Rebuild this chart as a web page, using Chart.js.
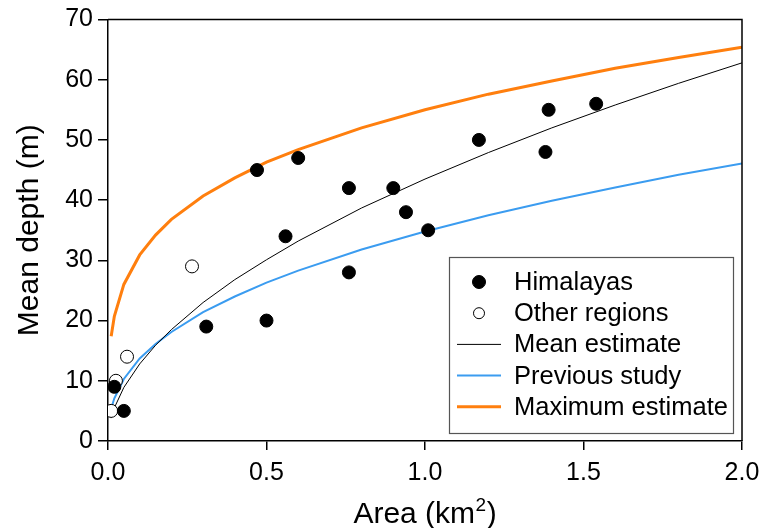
<!DOCTYPE html>
<html>
<head>
<meta charset="utf-8">
<script src="https://cdn.jsdelivr.net/npm/chart.js@4/dist/chart.umd.min.js"></script>
<style>
html,body{margin:0;padding:0;background:#fff;}
#wrap{width:764px;height:528px;}
</style>
</head>
<body>
<div id="wrap"><canvas id="c" width="764" height="528"></canvas></div>
<script>
// Himalayas (filled)
const himX = [0.02, 0.05, 0.31, 0.47, 0.50, 0.56, 0.60, 0.76, 0.76, 0.90, 0.94, 1.01, 1.17, 1.38, 1.39, 1.54];
const himY = [9, 5, 19, 45, 20, 34, 47, 42, 28, 42, 38, 35, 50, 48, 55, 56];
// Other regions (open)
const othX = [0.01, 0.025, 0.06, 0.265];
const othY = [5, 10, 14, 29];
// Curves
const curveX = [0.01, 0.02, 0.05, 0.1, 0.15, 0.2, 0.3, 0.4, 0.5, 0.6, 0.8, 1.0, 1.2, 1.4, 1.6, 1.8, 2.0];
const meanY = [3.8, 5.5, 8.9, 12.8, 15.9, 18.5, 23.0, 26.8, 30.1, 33.2, 38.7, 43.5, 47.9, 52.0, 55.8, 59.4, 62.8];
const prevY = [5.4, 7.1, 10.3, 13.7, 16.1, 18.1, 21.4, 24.0, 26.3, 28.3, 31.8, 34.8, 37.5, 39.9, 42.1, 44.2, 46.1];
const maxY = [17.4, 20.7, 26.0, 30.9, 34.2, 36.8, 40.7, 43.7, 46.3, 48.4, 52.0, 55.0, 57.6, 59.8, 61.9, 63.7, 65.4];
const xTicks = [0, 0.5, 1.0, 1.5, 2.0];
const yTicks = [0, 10, 20, 30, 40, 50, 60, 70];
const xTitle = ['Area (km', '2', ')'];

const pts = (xs, ys) => xs.map((x, i) => ({x: x, y: ys[i]}));
const FONT = "'Liberation Sans', Arial, sans-serif";

const frame = {
  id: 'frame',
  afterDatasetsDraw(chart) {
    const {ctx, chartArea: a} = chart;
    ctx.save();
    ctx.strokeStyle = '#000';
    ctx.lineWidth = 1.5;
    ctx.beginPath();
    ctx.moveTo(a.left, a.top);
    ctx.lineTo(a.right, a.top);
    ctx.lineTo(a.right, a.bottom);
    ctx.stroke();
    ctx.restore();
  },
  afterDraw(chart) {
    const ctx = chart.ctx;
    const ds = chart.data.datasets;
    const a = chart.chartArea;
    ctx.save();
    // x axis title with superscript
    const big = '30px ' + FONT, small = '19px ' + FONT;
    ctx.font = big; const w1 = ctx.measureText(xTitle[0]).width;
    ctx.font = small; const w2 = ctx.measureText(xTitle[1]).width;
    ctx.font = big; const w3 = ctx.measureText(xTitle[2]).width;
    const total = w1 + w2 + w3 + 1;
    const x0 = (a.left + a.right) / 2 - total / 2;
    const base = 523;
    ctx.fillStyle = '#000';
    ctx.textBaseline = 'alphabetic';
    ctx.textAlign = 'left';
    ctx.font = big; ctx.fillText(xTitle[0], x0, base);
    ctx.font = small; ctx.fillText(xTitle[1], x0 + w1 + 0.5, base - 12);
    ctx.font = big; ctx.fillText(xTitle[2], x0 + w1 + w2 + 1, base);
    // legend box
    ctx.fillStyle = '#fff';
    ctx.fillRect(449, 257, 284, 176);
    ctx.strokeStyle = '#555';
    ctx.lineWidth = 1.2;
    ctx.strokeRect(449.5, 257.5, 284, 176);
    ctx.font = '25.5px ' + FONT;
    ctx.textBaseline = 'middle';
    ds.forEach((d, r) => {
      const y = 282 + r * 31.2;
      if (d.type === 'scatter') {
        ctx.beginPath();
        ctx.arc(479, y, r === 0 ? 6.5 : 5.5, 0, Math.PI * 2);
        ctx.fillStyle = d.backgroundColor;
        ctx.fill();
        ctx.lineWidth = 1;
        ctx.strokeStyle = '#000';
        ctx.stroke();
      } else {
        ctx.beginPath();
        ctx.moveTo(457, y);
        ctx.lineTo(501, y);
        ctx.strokeStyle = d.borderColor;
        ctx.lineWidth = d.borderWidth;
        ctx.stroke();
      }
      ctx.fillStyle = '#000';
      ctx.textAlign = 'left';
      ctx.fillText(d.label, 514, y + 1);
    });
    ctx.restore();
  }
};

new Chart(document.getElementById('c'), {
  data: {
    datasets: [
      {type: 'scatter', label: 'Himalayas', data: pts(himX, himY), backgroundColor: '#000', borderColor: '#000', borderWidth: 1, pointRadius: 6.5, order: 0},
      {type: 'scatter', label: 'Other regions', data: pts(othX, othY), backgroundColor: '#fff', borderColor: '#000', borderWidth: 1, pointRadius: 6.5, order: 0},
      {type: 'line', label: 'Mean estimate', data: pts(curveX, meanY), borderColor: '#000', borderWidth: 1, pointRadius: 0, fill: false, tension: 0, order: 1},
      {type: 'line', label: 'Previous study', data: pts(curveX, prevY), borderColor: '#3b9cf0', borderWidth: 2, pointRadius: 0, fill: false, tension: 0, order: 1},
      {type: 'line', label: 'Maximum estimate', data: pts(curveX, maxY), borderColor: '#ff7f0e', borderWidth: 3, pointRadius: 0, fill: false, tension: 0, order: 1}
    ]
  },
  options: {
    responsive: false,
    animation: false,
    layout: {padding: {top: 19.5, right: 22, left: 0, bottom: 0}},
    plugins: {legend: {display: false}, tooltip: {enabled: false}},
    scales: {
      x: {
        type: 'linear', min: 0, max: 2,
        afterBuildTicks: s => { s.ticks = xTicks.map(v => ({value: v})); },
        afterFit: s => { s.height = 87; s.paddingLeft = 0; s.paddingRight = 0; },
        ticks: {color: '#000', font: {family: FONT, size: 25}, padding: 8, callback: v => v.toFixed(1), maxRotation: 0},
        grid: {drawOnChartArea: false, drawTicks: true, tickLength: 9, color: '#000', lineWidth: 1.5},
        border: {display: true, color: '#000', width: 1.5},
        title: {display: false}
      },
      y: {
        type: 'linear', min: 0, max: 70,
        afterBuildTicks: s => { s.ticks = yTicks.map(v => ({value: v})); },
        afterFit: s => { s.width = 108; s.paddingTop = 0; s.paddingBottom = 0; },
        ticks: {color: '#000', font: {family: FONT, size: 25}, padding: 5},
        grid: {drawOnChartArea: false, drawTicks: true, tickLength: 10, color: '#000', lineWidth: 1.5},
        border: {display: true, color: '#000', width: 1.5},
        title: {display: true, text: 'Mean depth (m)', color: '#000', font: {family: FONT, size: 30}, padding: {top: 12, bottom: 0}}
      }
    }
  },
  plugins: [frame]
});
</script>
</body>
</html>
